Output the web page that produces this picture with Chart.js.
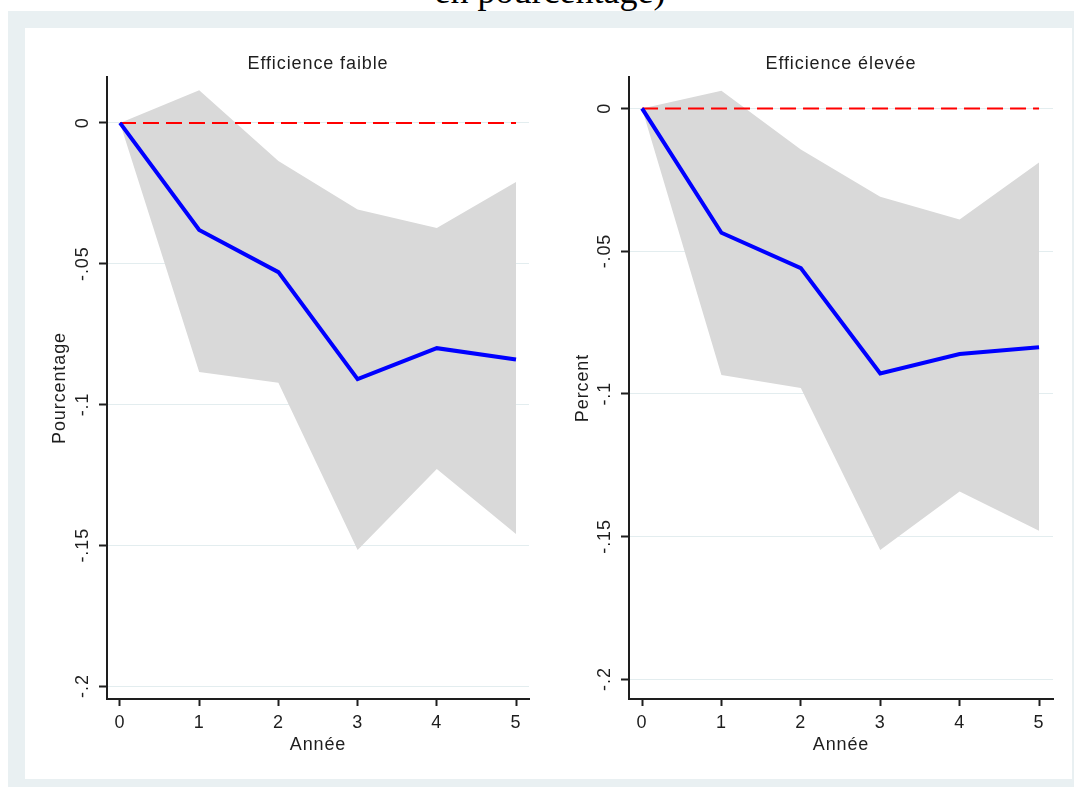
<!DOCTYPE html>
<html>
<head>
<meta charset="utf-8">
<script src="https://cdn.jsdelivr.net/npm/chart.js@4"></script>
<style>
  body { margin: 0; width: 1074px; height: 787px; overflow: hidden; background: #fff; position: relative; }
  #caption { position: absolute; left: 550px; top: -27px; transform: translateX(-50%); white-space: nowrap;
             font: 36px/36px "Liberation Serif", "Times New Roman", serif; color: #000; }
  #region { position: absolute; left: 8px; top: 11px; right: 0; bottom: 0; background: #e9f0f2; }
  #plot { position: absolute; left: 25px; top: 28px; width: 1047px; height: 751px; background: #fff; }
  canvas { position: absolute; top: 0; }
  #chart1 { left: 0; }
  #chart2 { left: 515px; }
</style>
</head>
<body>
<div id="caption">en pourcentage)</div>
<div id="region"></div>
<div id="plot">
  <canvas id="chart1" width="515" height="751"></canvas>
  <canvas id="chart2" width="532" height="751"></canvas>
</div>
<script>
// years after the shock
const years = [0, 1, 2, 3, 4, 5];
const zeroLine = [0, 0, 0, 0, 0, 0];

// Efficience faible
const faibleIrf = [0, -0.038, -0.053, -0.091, -0.080, -0.084];
const faibleUpper = [0, 0.0116, -0.0135, -0.0308, -0.0373, -0.021];
const faibleLower = [0, -0.0885, -0.0923, -0.1517, -0.1229, -0.146];

// Efficience élevée
const eleveeIrf = [0, -0.0436, -0.056, -0.0929, -0.0861, -0.0837];
const eleveeUpper = [0, 0.0062, -0.0144, -0.031, -0.0389, -0.019];
const eleveeLower = [0, -0.0934, -0.098, -0.1548, -0.1343, -0.148];

const xTickLabels = ['0', '1', '2', '3', '4', '5'];
const yTickValues = [-0.2, -0.15, -0.1, -0.05, 0];
const yTickLabels = ['-.2', '-.15', '-.1', '-.05', '0'];

const font = { family: '"Liberation Sans", Arial, sans-serif', size: 18 };
const ink = '#1e1e1e';

const points = vals => vals.map((v, i) => ({ x: years[i], y: v }));

// stata text is slightly spaced out
const spacing = {
    id: 'spacing',
    beforeUpdate(c) { c.ctx.letterSpacing = '0.9px'; },
    beforeDraw(c) { c.ctx.letterSpacing = '0.9px'; }
};

function panel(id, title, yTitle, irf, upper, lower, s) {
    new Chart(document.getElementById(id), {
        type: 'line',
        data: {
            datasets: [
                { data: points(irf), borderColor: '#0000ff', borderWidth: 4, pointRadius: 0 },
                { data: points(zeroLine), borderColor: '#ff0000', borderWidth: 2, borderDash: [16, 7], pointRadius: 0 },
                { data: points(upper), borderWidth: 0, borderColor: 'transparent', backgroundColor: '#d9d9d9', fill: '+1', pointRadius: 0 },
                { data: points(lower), borderWidth: 0, borderColor: 'transparent', pointRadius: 0 }
            ]
        },
        options: {
            responsive: false,
            animation: false,
            layout: { padding: { right: s.padRight } },
            plugins: { legend: { display: false }, tooltip: { enabled: false } },
            scales: {
                x: {
                    type: 'linear', min: s.xMin, max: s.xMax,
                    afterBuildTicks: sc => { sc.ticks = years.map(v => ({ value: v })); },
                    afterFit: sc => { sc.height = 80; },
                    grid: { drawOnChartArea: false, tickLength: 7, tickColor: ink, tickWidth: 2 },
                    border: { color: ink, width: 2 },
                    ticks: { color: ink, font: font, padding: 6, maxRotation: 0, autoSkip: false,
                             callback: (v, i) => xTickLabels[i] },
                    title: { display: true, text: 'Année', color: ink, font: font, padding: { top: 0, bottom: 23 } }
                },
                top: {
                    type: 'linear', axis: 'x', position: 'top', min: 0, max: 1,
                    afterFit: sc => { sc.height = 49; },
                    grid: { display: false },
                    border: { display: false },
                    ticks: { display: false },
                    title: { display: true, text: title, color: ink, font: font, padding: { top: 25.5, bottom: 0 } }
                },
                y: {
                    min: s.yMin, max: s.yMax,
                    afterBuildTicks: sc => { sc.ticks = yTickValues.map(v => ({ value: v })); },
                    afterFit: sc => { sc.width = s.yWidth; },
                    grid: { color: '#e3edef', lineWidth: 1, tickLength: 8, tickColor: ink, tickWidth: 2 },
                    border: { color: ink, width: 2 },
                    ticks: { color: ink, font: font, minRotation: 90, maxRotation: 90, crossAlign: 'center',
                             padding: s.yTickPad, callback: (v, i) => yTickLabels[i] },
                    title: { display: true, text: yTitle, color: ink, font: font, padding: { top: s.yTitlePad, bottom: 0 } }
                }
            }
        },
        plugins: [spacing]
    });
}

panel('chart1', 'Efficience faible', 'Pourcentage', faibleIrf, faibleUpper, faibleLower,
    { xMin: -0.164, xMax: 5.164, yMin: -0.2046, yMax: 0.0163, yWidth: 82, padRight: 11, yTitlePad: 24.2, yTickPad: -1.5 });
panel('chart2', 'Efficience élevée', 'Percent', eleveeIrf, eleveeUpper, eleveeLower,
    { xMin: -0.164, xMax: 5.176, yMin: -0.207, yMax: 0.011, yWidth: 89, padRight: 19, yTitlePad: 32.2, yTickPad: -1.5 });
</script>
</body>
</html>
